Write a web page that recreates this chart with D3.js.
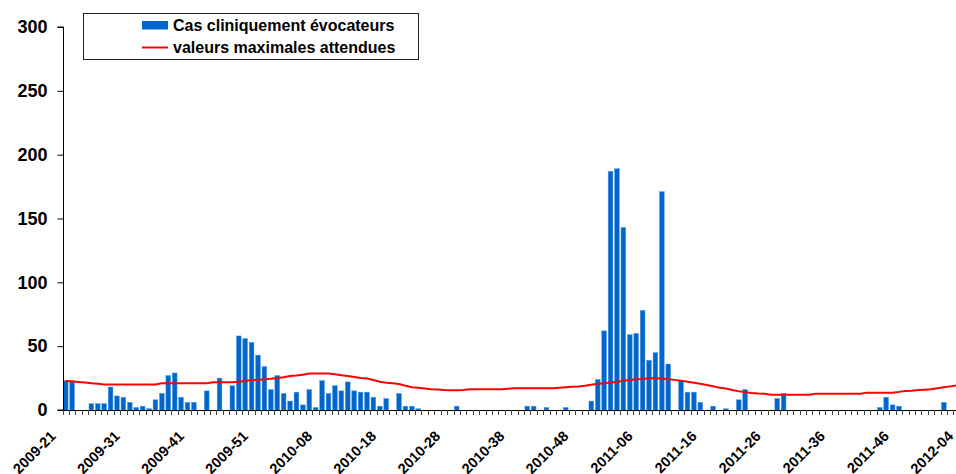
<!DOCTYPE html>
<html>
<head>
<meta charset="utf-8">
<script src="https://cdn.jsdelivr.net/npm/d3@7"></script>
<style>
  body { margin: 0; background: #fff; }
  svg { display: block; font-family: Arial, "Liberation Sans", sans-serif; font-weight: bold; }
</style>
</head>
<body>
<div id="chart"></div>
<script>
// weeks 2009-21 .. 2012-04 (2009 has 53 iso weeks)
var weekYears = [2009, 2010, 2011, 2012];
var weekFirst = [21, 1, 1, 1];
var weekLast = [53, 52, 52, 4];

var tickLabels = ['2009-21', '2009-31', '2009-41', '2009-51', '2010-08', '2010-18', '2010-28',
	'2010-38', '2010-48', '2011-06', '2011-16', '2011-26', '2011-36', '2011-46', '2012-04'];

var yTicks = [0, 50, 100, 150, 200, 250, 300];

// Cas cliniquement évocateurs, one per week
var cases = [
	23, 22, 0, 0, 5, 5, 5, 18, 11, 10,
	6, 2, 3, 1, 8, 13, 27, 29, 10, 6,
	6, 0, 15, 0, 25, 0, 19, 58, 56, 53,
	43, 34, 16, 27, 13, 7, 14, 4, 16, 2,
	23, 13, 19, 15, 22, 15, 14, 14, 10, 3,
	9, 0, 13, 3, 3, 1, 0, 0, 0, 0,
	0, 3, 0, 0, 0, 0, 0, 0, 0, 0,
	0, 0, 3, 3, 0, 2, 0, 0, 2, 0,
	0, 0, 7, 24, 62, 187, 189, 143, 59, 60,
	78, 39, 45, 171, 36, 0, 23, 14, 14, 6,
	0, 3, 0, 1, 0, 8, 16, 0, 0, 0,
	0, 9, 13, 0, 0, 0, 0, 0, 0, 0,
	0, 0, 0, 0, 0, 0, 0, 2, 10, 4,
	3, 0, 0, 0, 0, 0, 0, 6, 0, 0,
	0
];

// valeurs maximales attendues
var expected = [
	22.7, 22.5, 22, 21.5, 21, 20.5, 20, 20, 20, 20,
	20, 20, 20, 20, 20, 21, 21, 21, 21, 21,
	21, 21, 21, 21.7, 21.7, 21.7, 21.7, 22.2, 22.8, 23.5,
	23.5, 24, 24.5, 25, 25.6, 26.6, 27, 27.7, 28.5, 28.5,
	28.5, 28.5, 28, 27.2, 26.6, 25.8, 25, 24.6, 23.5, 22.2,
	21.3, 21, 20.4, 19, 17.8, 17.4, 16.8, 16.2, 16, 15.6,
	15.4, 15.4, 15.6, 16.2, 16.2, 16.2, 16.2, 16.2, 16.2, 16.6,
	17, 17, 17, 17, 17, 17, 17, 17.4, 17.8, 18.2,
	18.5, 19, 19.8, 20.5, 20.9, 21.5, 22, 23, 23.5, 24,
	24.3, 24.8, 24.8, 24.6, 24, 23.6, 23, 22.2, 21.4, 20.6,
	19.6, 18.6, 17.5, 16.8, 15.6, 14.6, 14, 13.3, 12.9, 12.8,
	12, 12, 12, 12, 12, 12, 12, 12.8, 12.8, 12.8,
	12.8, 12.8, 12.8, 12.8, 12.8, 13.6, 13.6, 13.6, 13.6, 13.6,
	14.2, 14.8, 15.1, 15.6, 15.9, 16.3, 17, 17.8, 18.5, 19.2,
	19.8
];

var width = 956, height = 474;
var step = 6.41; // px per week, plot runs past the right edge
var left = 62.5;

var weeks = [];
weekYears.forEach(function (yr, k) {
	for (var w = weekFirst[k]; w <= weekLast[k]; w++) {
		weeks.push(yr + '-' + (w < 10 ? '0' + w : w));
	}
});

var svg = d3.select('#chart').append('svg')
	.attr('width', width)
	.attr('height', height);

svg.append('rect').attr('width', width).attr('height', height).attr('fill', '#fff');

var x = d3.scaleBand()
	.domain(weeks)
	.range([left, left + step * weeks.length])
	.paddingInner(0.26)
	.paddingOuter(0.13);

var y = d3.scaleLinear().domain([0, 300]).range([410, 27]);

// bars (zero weeks draw nothing)
var barData = cases.map(function (v, i) { return { week: weeks[i], value: v }; })
	.filter(function (d) { return d.value > 0; });

svg.selectAll('rect.bar')
	.data(barData)
	.enter()
	.append('rect')
	.attr('class', 'bar')
	.attr('x', function (d) { return x(d.week); })
	.attr('width', x.bandwidth())
	.attr('y', function (d) { return y(d.value); })
	.attr('height', function (d) { return y(0) - y(d.value); })
	.attr('fill', '#0066cc')
	.attr('stroke', '#5a9be0')
	.attr('stroke-width', 0.5);

// red line
var line = d3.line()
	.x(function (d, i) { return x(weeks[i]) + x.bandwidth() / 2; })
	.y(function (d) { return y(d); });

svg.append('path')
	.datum(expected)
	.attr('d', line)
	.attr('fill', 'none')
	.attr('stroke', '#ff0000')
	.attr('stroke-width', 2);

// y axis
var yAxis = d3.axisLeft(y).tickValues(yTicks).tickSize(6).tickPadding(10);
var gy = svg.append('g').attr('transform', 'translate(63.5,0)').call(yAxis);
gy.select('.domain').attr('stroke', '#000').attr('d', 'M-6,' + y(300) + 'H0V' + y(0) + 'H-6');
gy.selectAll('.tick line').attr('stroke', '#000');
gy.selectAll('.tick text')
	.attr('font-size', 18)
	.attr('font-weight', 'bold')
	.attr('font-family', 'Arial, "Liberation Sans", sans-serif')
	.attr('fill', '#000');

// x axis line and week ticks
svg.append('line')
	.attr('x1', 63).attr('x2', width)
	.attr('y1', 410.5).attr('y2', 410.5)
	.attr('stroke', '#000');

svg.selectAll('line.wk')
	.data(weeks)
	.enter()
	.append('line')
	.attr('class', 'wk')
	.attr('x1', function (d) { return Math.round(x(d) - x.step() * x.paddingInner() / 2) + 0.5; })
	.attr('x2', function (d) { return Math.round(x(d) - x.step() * x.paddingInner() / 2) + 0.5; })
	.attr('y1', 410).attr('y2', 415)
	.attr('stroke', '#444');

svg.selectAll('text.wklab')
	.data(tickLabels)
	.enter()
	.append('text')
	.attr('class', 'wklab')
	.attr('transform', function (d) {
		var cx = x(d) + x.bandwidth() / 2;
		return 'translate(' + (cx - 9) + ',437) rotate(-45)';
	})
	.attr('text-anchor', 'end')
	.attr('font-size', 14.5)
	.attr('fill', '#000')
	.text(function (d) { return d; });

// legend
var lg = svg.append('g');
lg.append('rect')
	.attr('x', 83.5).attr('y', 13.5)
	.attr('width', 335).attr('height', 46)
	.attr('fill', '#fff')
	.attr('stroke', '#222');
lg.append('rect')
	.attr('x', 142).attr('y', 21)
	.attr('width', 26).attr('height', 8.5)
	.attr('fill', '#0066cc');
lg.append('text')
	.attr('x', 173).attr('y', 30.5)
	.attr('font-size', 16)
	.text('Cas cliniquement évocateurs');
lg.append('line')
	.attr('x1', 142).attr('x2', 168)
	.attr('y1', 47.5).attr('y2', 47.5)
	.attr('stroke', '#ff0000')
	.attr('stroke-width', 2);
lg.append('text')
	.attr('x', 173).attr('y', 52.5)
	.attr('font-size', 16)
	.text('valeurs maximales attendues');
</script>
</body>
</html>
